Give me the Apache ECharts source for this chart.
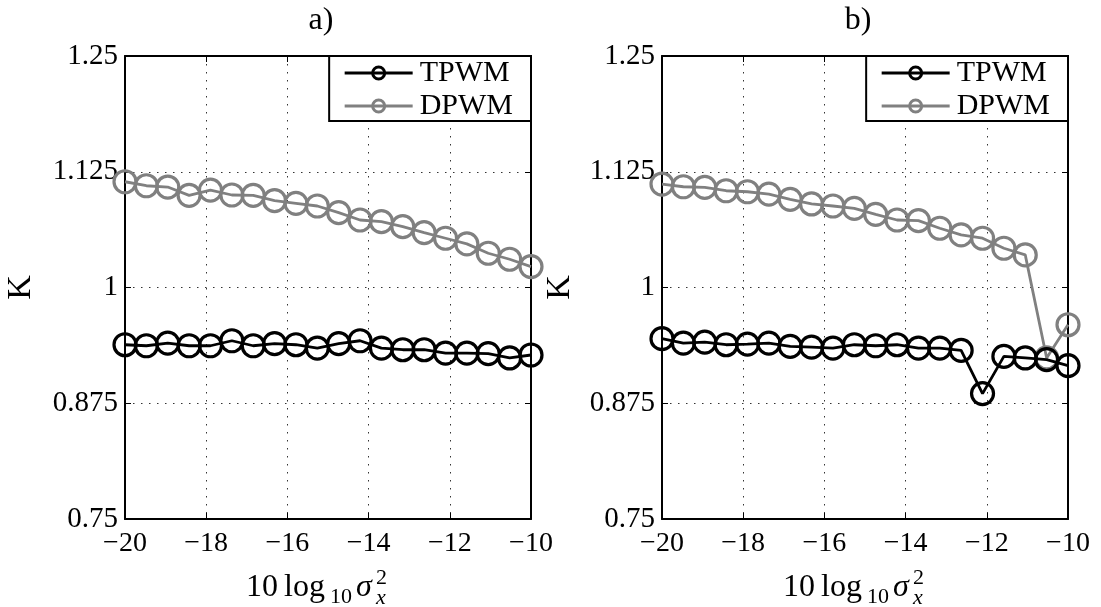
<!DOCTYPE html>
<html>
<head>
<meta charset="utf-8">
<script src="https://cdn.jsdelivr.net/npm/echarts@6/dist/echarts.min.js"></script>
<style>html,body{margin:0;padding:0;background:#fff}#c{width:1101px;height:607px}</style>
</head>
<body>
<div id="c"></div>
<script>
// x positions (dB): 20 points from -20 to -10
const xVals = [-20, -19.474, -18.947, -18.421, -17.895, -17.368, -16.842, -16.316, -15.789, -15.263,
               -14.737, -14.211, -13.684, -13.158, -12.632, -12.105, -11.579, -11.053, -10.526, -10];
// panel a
const tpwmA = [0.9382, 0.9371, 0.9400, 0.9371, 0.9371, 0.9425, 0.9371, 0.9393, 0.9382, 0.9346,
               0.9393, 0.9425, 0.9346, 0.9328, 0.9328, 0.9292, 0.9292, 0.9285, 0.9239, 0.9271];
const dpwmA = [1.1142, 1.1099, 1.1085, 1.0995, 1.1052, 1.0999, 1.0995, 1.0938, 1.0909, 1.0880,
               1.0808, 1.0729, 1.0711, 1.0657, 1.0593, 1.0532, 1.0471, 1.0370, 1.0305, 1.0226];
// panel b
const tpwmB = [0.9447, 0.9400, 0.9411, 0.9382, 0.9389, 0.9400, 0.9364, 0.9357, 0.9346, 0.9382,
               0.9371, 0.9382, 0.9346, 0.9346, 0.9321, 0.8854, 0.9256, 0.9239, 0.9221, 0.9156];
const dpwmB = [1.1117, 1.1088, 1.1081, 1.1045, 1.1034, 1.1009, 1.0952, 1.0902, 1.0880, 1.0855,
               1.0790, 1.0729, 1.0722, 1.0640, 1.0568, 1.0532, 1.0424, 1.0352, 0.9239, 0.9598];
const panelTitles = ['a)', 'b)'];
const seriesNames = ['TPWM', 'DPWM'];
const yLabel = 'K';

const FONT = "'Liberation Serif', 'DejaVu Serif', serif";
const grids = [
  {left: 125, top: 56, width: 406, height: 463},
  {left: 662, top: 56, width: 406, height: 463}
];
const pair = (xs, ys) => xs.map((x, i) => [x, ys[i]]);
const fmtX = v => (v < 0 ? '\u2212' : '') + Math.abs(v);

const xAxes = [], yAxes = [], series = [], titles = [], legends = [], graphics = [];
const panelData = [[tpwmA, dpwmA], [tpwmB, dpwmB]];
grids.forEach((g, i) => {
  const cx = g.left + g.width / 2;
  xAxes.push({
    gridIndex: i, type: 'value', min: -20, max: -10, interval: 2, position: 'bottom',
    axisLine: {show: true, onZero: false, lineStyle: {color: '#000', width: 2}},
    axisTick: {show: true, inside: true, length: 6, lineStyle: {color: '#000', width: 1}},
    axisLabel: {color: '#000', fontFamily: FONT, fontSize: 28, margin: 11, formatter: fmtX},
    splitLine: {show: true, lineStyle: {color: '#333', width: 1, type: [1.5, 6.5]}}
  });
  xAxes.push({
    gridIndex: i, type: 'value', min: -20, max: -10, interval: 2, position: 'top',
    axisLine: {show: true, onZero: false, lineStyle: {color: '#000', width: 2}},
    axisTick: {show: true, inside: true, length: 6, lineStyle: {color: '#000', width: 1}},
    axisLabel: {show: false}, splitLine: {show: false}
  });
  yAxes.push({
    gridIndex: i, type: 'value', min: 0.75, max: 1.25, interval: 0.125, position: 'left',
    name: yLabel, nameLocation: 'middle', nameRotate: 90, nameGap: i === 0 ? 87 : 85,
    nameTextStyle: {color: '#000', fontFamily: FONT, fontSize: 34},
    axisLine: {show: true, onZero: false, lineStyle: {color: '#000', width: 2}},
    axisTick: {show: true, inside: true, length: 6, lineStyle: {color: '#000', width: 1}},
    axisLabel: {color: '#000', fontFamily: FONT, fontSize: 29, margin: 7},
    splitLine: {show: true, lineStyle: {color: '#333', width: 1, type: [1.5, 6.5]}}
  });
  yAxes.push({
    gridIndex: i, type: 'value', min: 0.75, max: 1.25, interval: 0.125, position: 'right',
    axisLine: {show: true, onZero: false, lineStyle: {color: '#000', width: 2}},
    axisTick: {show: true, inside: true, length: 6, lineStyle: {color: '#000', width: 1}},
    axisLabel: {show: false}, splitLine: {show: false}
  });
  const colors = ['#000000', '#808080'];
  panelData[i].forEach((ys, k) => {
    series.push({
      name: seriesNames[k], type: 'line', xAxisIndex: 2 * i, yAxisIndex: 2 * i,
      data: pair(xVals, ys), symbol: 'circle', symbolSize: 22,
      showSymbol: true, animation: false, z: k === 0 ? 3 : 2,
      lineStyle: {color: colors[k], width: 2.8},
      itemStyle: {color: 'rgba(255,255,255,0)', borderColor: colors[k], borderWidth: 3.2}
    });
  });
  titles.push({
    text: panelTitles[i], left: cx - 12, top: 0, textAlign: 'center',
    textStyle: {fontFamily: FONT, fontSize: 32, fontWeight: 'normal', color: '#000'}
  });
  legends.push({
    data: seriesNames, orient: 'vertical', right: 1101 - (g.left + g.width), top: g.top,
    padding: [2, 18, 0, 14], itemGap: 3, itemWidth: 68, itemHeight: 15,
    backgroundColor: '#fff', borderColor: '#000', borderWidth: 2, borderRadius: 0,
    selectedMode: false,
    lineStyle: {width: 3},
    itemStyle: {borderWidth: 3},
    textStyle: {fontFamily: FONT, fontSize: 30, color: '#000', padding: [0, 0, 0, 2]}
  });
  // x-axis label: 10 log10 sigma_x^2
  const gx = g.left + 121, gy = 567;
  graphics.push({
    type: 'group', left: gx, top: gy, children: [
      {type: 'text', x: 0, y: 0, style: {text: '10', font: '32px ' + FONT, fill: '#000'}},
      {type: 'text', x: 38, y: 0, style: {text: 'log', font: '32px ' + FONT, fill: '#000'}},
      {type: 'text', x: 84, y: 14, style: {text: '10', font: '22px ' + FONT, fill: '#000'}},
      {type: 'text', x: 110, y: 0, style: {text: '\u03c3', font: 'italic 32px ' + FONT, fill: '#000'}},
      {type: 'text', x: 130, y: -5, style: {text: '2', font: '22px ' + FONT, fill: '#000'}},
      {type: 'text', x: 130, y: 15, style: {text: 'x', font: 'italic 22px ' + FONT, fill: '#000'}}
    ]
  });
});

const chart = echarts.init(document.getElementById('c'), null, {renderer: 'canvas'});
chart.setOption({
  animation: false,
  backgroundColor: '#fff',
  title: titles,
  legend: legends,
  grid: grids,
  xAxis: xAxes,
  yAxis: yAxes,
  series: series,
  graphic: graphics
});
</script>
</body>
</html>
